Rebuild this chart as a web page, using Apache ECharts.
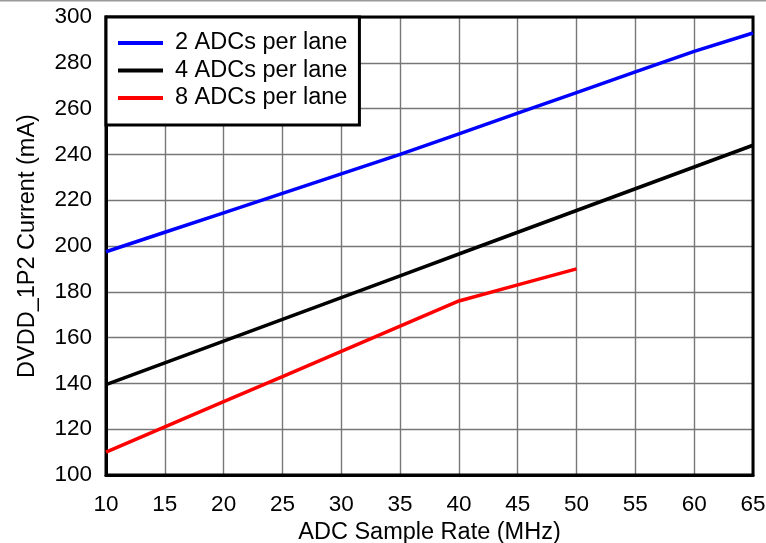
<!DOCTYPE html>
<html>
<head>
<meta charset="utf-8">
<script src="https://cdn.jsdelivr.net/npm/echarts@6/dist/echarts.min.js"></script>
<style>
html,body{margin:0;padding:0;background:#fff;}
#c{width:766px;height:543px;}
</style>
</head>
<body>
<div id="c"></div>
<script>
const rates = [10, 15, 20, 25, 30, 35, 40, 45, 50, 55, 60, 65];
const lane2 = [197.5, 206, 214.5, 223, 231.5, 240, 249, 258, 267, 276, 285, 293];
const lane4 = [139.5, 149, 158.5, 168, 177.5, 187, 196.5, 206, 215.5, 225, 234.5, 244];
const lane8 = [110, 121, 132, 143, 154, 165, 176, 183, 190, null, null, null];
const seriesNames = ['2 ADCs per lane', '4 ADCs per lane', '8 ADCs per lane'];
const xTitle = 'ADC Sample Rate (MHz)';
const yTitle = 'DVDD_1P2 Current (mA)';

function pairs(vals) {
  const out = [];
  rates.forEach((r, i) => { if (vals[i] != null) out.push([r, vals[i]]); });
  return out;
}

const chart = echarts.init(document.getElementById('c'), null, {renderer: 'canvas'});
const font = '"Liberation Sans", Arial, Helvetica, sans-serif';
const mkSeries = (name, vals, color) => ({
  name, type: 'line', data: pairs(vals), showSymbol: false, symbol: 'none',
  lineStyle: {color, width: 3.5}, itemStyle: {color}, z: 5, animation: false
});
chart.setOption({
  animation: false,
  backgroundColor: '#fff',
  grid: {left: 106, right: 13, top: 17, bottom: 68, containLabel: false, outerBoundsMode: 'none',
         show: true, borderColor: '#000', borderWidth: 3, backgroundColor: 'transparent', z: 3},
  legend: {
    left: 106, top: 17, orient: 'vertical',
    backgroundColor: '#fff', borderColor: '#000', borderWidth: 3,
    padding: [14, 12, 15, 12], itemGap: 3.5,
    itemWidth: 45, itemHeight: 4, icon: 'rect',
    textStyle: {fontFamily: font, fontSize: 23.5, color: '#000', lineHeight: 24, padding: [0, 0, 0, 7]},
    data: seriesNames, z: 10
  },
  xAxis: {
    type: 'value', min: 10, max: 65, interval: 5,
    name: xTitle, nameLocation: 'middle', nameGap: 45,
    nameTextStyle: {fontFamily: font, fontSize: 23.5, color: '#000'},
    axisLine: {show: true, lineStyle: {color: '#000', width: 3}},
    axisTick: {show: false},
    axisLabel: {fontFamily: font, fontSize: 22.5, color: '#000', margin: 18},
    splitLine: {show: true, lineStyle: {color: '#777', width: 1.4}}
  },
  yAxis: {
    type: 'value', min: 100, max: 300, interval: 20,
    name: yTitle, nameLocation: 'middle', nameGap: 66,
    nameTextStyle: {fontFamily: font, fontSize: 23.5, color: '#000'},
    axisLine: {show: true, lineStyle: {color: '#000', width: 3}},
    axisTick: {show: false},
    axisLabel: {fontFamily: font, fontSize: 22.5, color: '#000', margin: 14},
    splitLine: {show: true, lineStyle: {color: '#777', width: 1.4}}
  },
  graphic: [{type: 'line', shape: {x1: 0, y1: 0.75, x2: 766, y2: 0.75}, style: {stroke: '#999', lineWidth: 1.5}}],
  series: [
    mkSeries(seriesNames[0], lane2, '#0000ff'),
    mkSeries(seriesNames[1], lane4, '#000000'),
    mkSeries(seriesNames[2], lane8, '#ff0000')
  ]
});
</script>
</body>
</html>
